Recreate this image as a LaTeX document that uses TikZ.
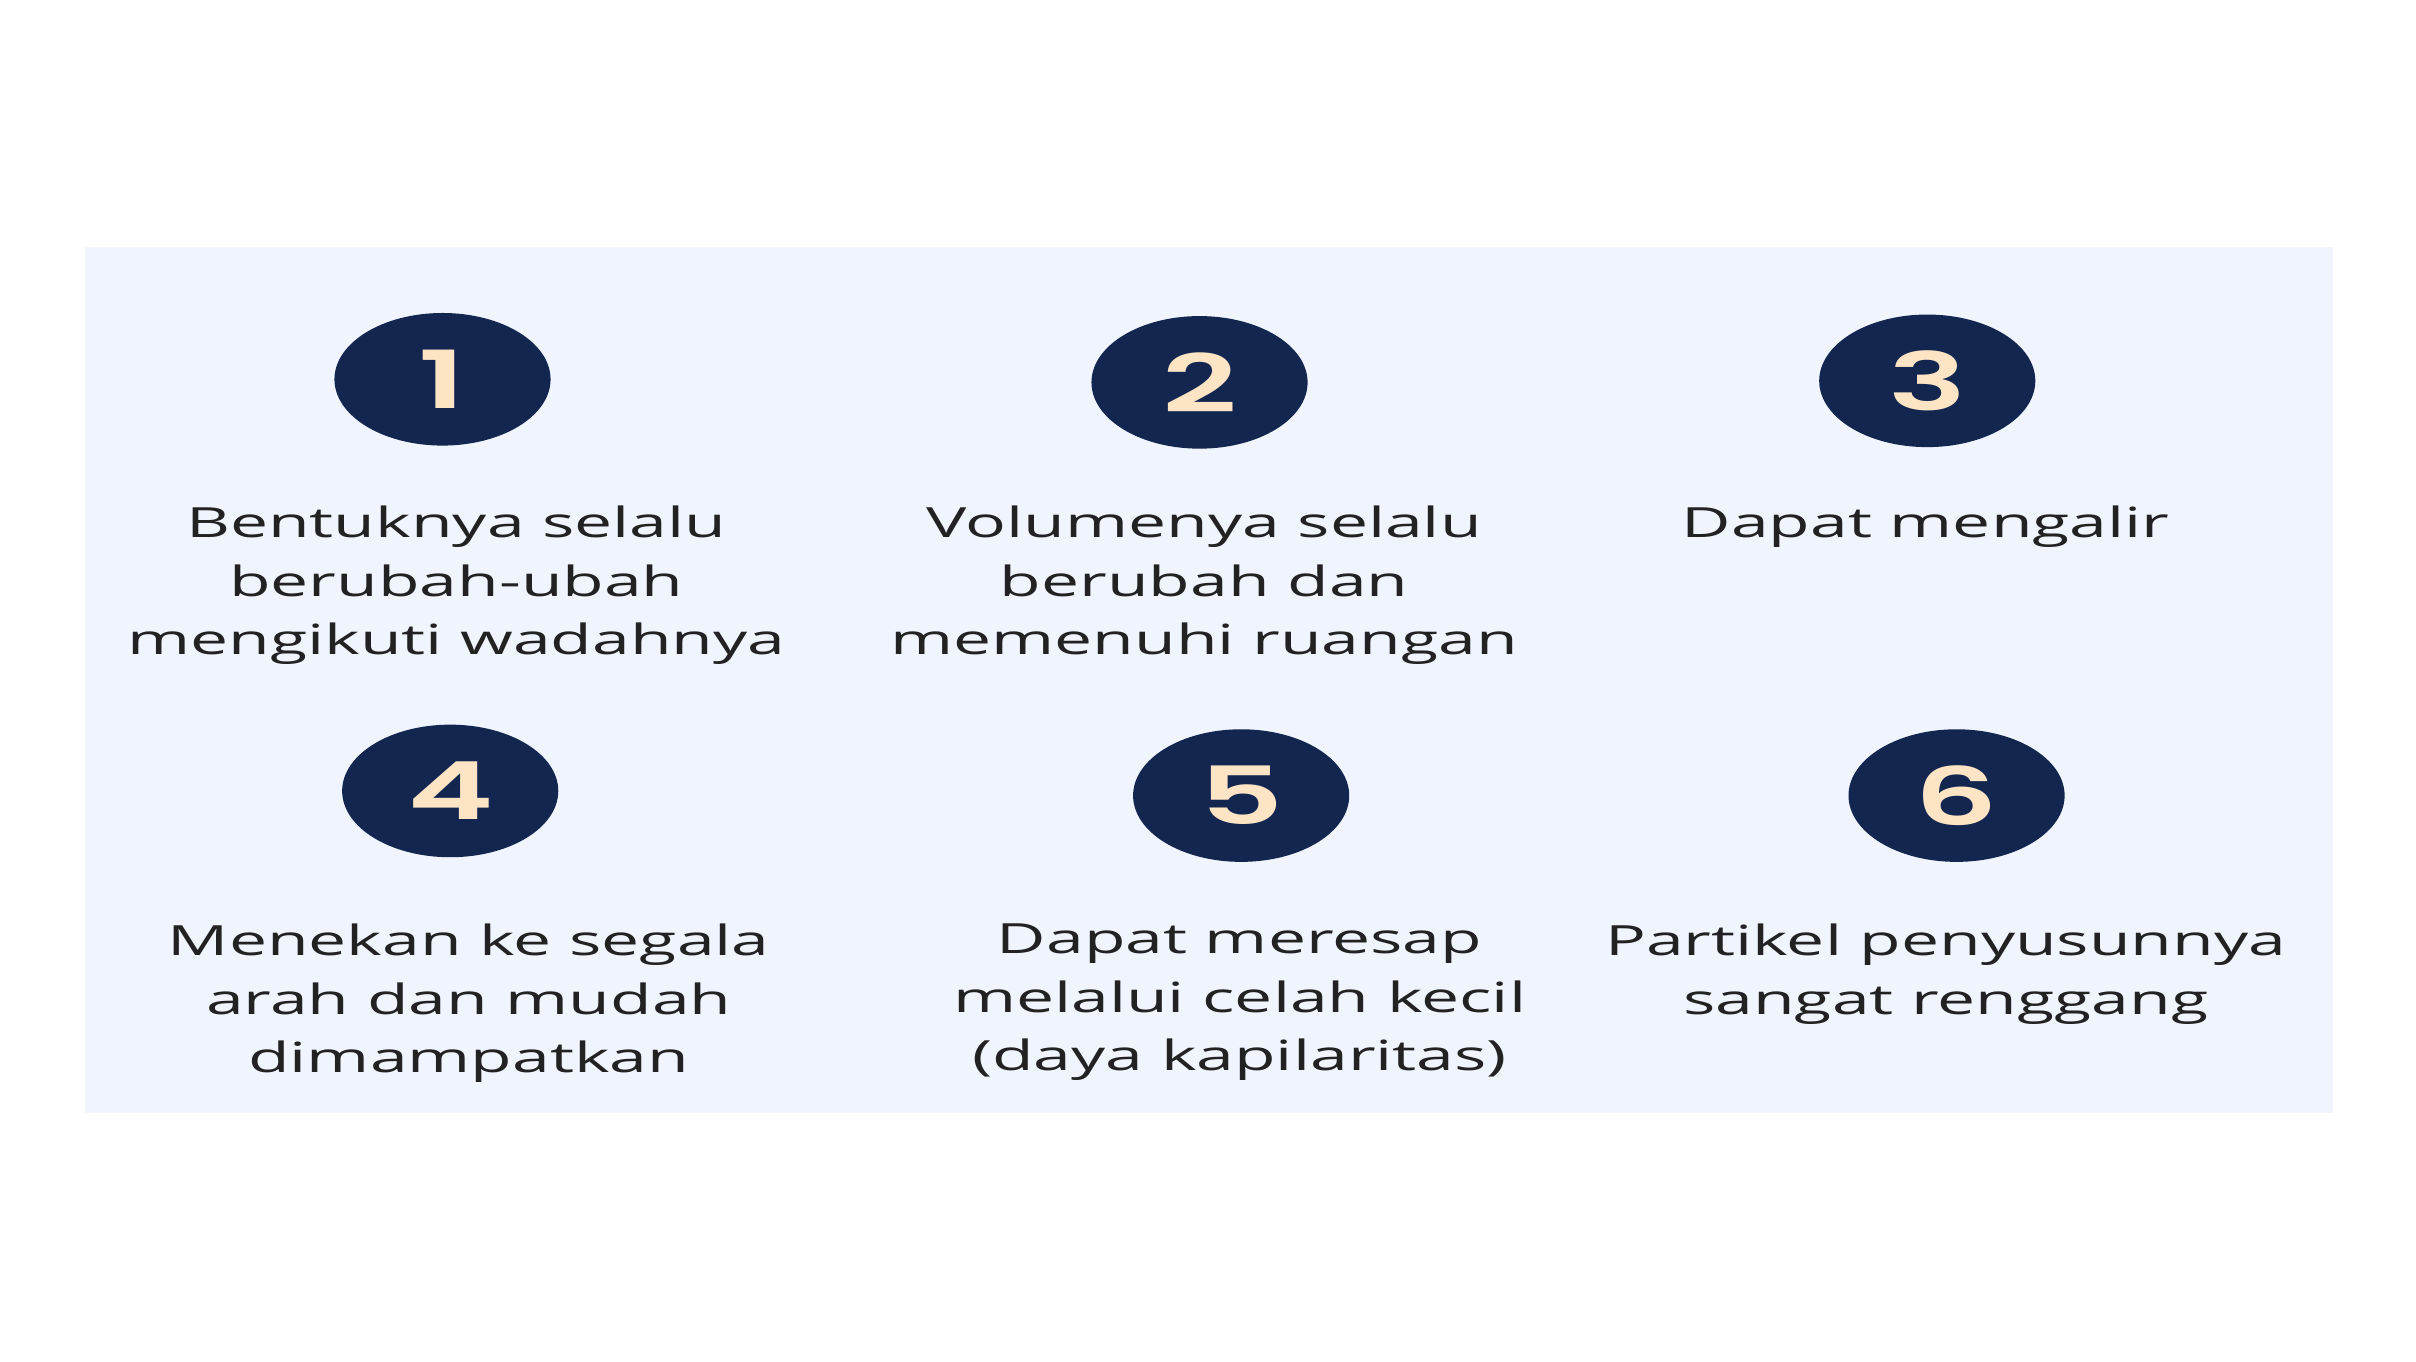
\documentclass[tikz,border=0pt]{standalone}
\usepackage{fontspec}
\setmainfont{Open Sans}
\newfontfamily\numfont{Poppins SemiBold}
\usetikzlibrary{shapes.geometric}
\definecolor{panelbg}{HTML}{EFF4FD}
\definecolor{navy}{HTML}{132650}
\definecolor{cream}{HTML}{FCE4C4}
\definecolor{txt}{HTML}{222222}
\tikzset{
  numc/.style={circle, fill=navy, minimum size=86pt, inner sep=0pt, xscale=1.63,
    text=cream, font=\numfont\fontsize{52}{52}\selectfont},
  desc/.style={anchor=north, inner sep=0pt, align=center, xscale=1.63, text=txt,
    font=\fontsize{27}{38}\selectfont}
}
\begin{document}
\begin{tikzpicture}[x=1pt,y=-1pt]
\useasboundingbox (0,0) rectangle (1567,883);
\fill[white] (0,0) rectangle (1567,883);
\fill[panelbg] (55,160) rectangle (1513,722);
\node[numc] (n1) at (287,246) {1};
\node[numc] (n2) at (778,248) {2};
\node[numc] (n3) at (1250,247) {3};
\node[numc] (n4) at (292,513) {4};
\node[numc] (n5) at (805,516) {5};
\node[numc] (n6) at (1269,516) {6};
\node[desc] (t1) at (296,328) {Bentuknya selalu\\berubah-ubah\\mengikuti wadahnya};
\node[desc] (t2) at (781,328) {Volumenya selalu\\berubah dan\\memenuhi ruangan};
\node[desc] (t3) at (1249,328) {Dapat mengalir};
\node[desc] (t4) at (304,599) {Menekan ke segala\\arah dan mudah\\dimampatkan};
\node[desc] (t5) at (804,599) {Dapat meresap\\melalui celah kecil\\(daya kapilaritas)};
\node[desc] (t6) at (1262,599) {Partikel penyusunnya\\sangat renggang};
\end{tikzpicture}
\end{document}
